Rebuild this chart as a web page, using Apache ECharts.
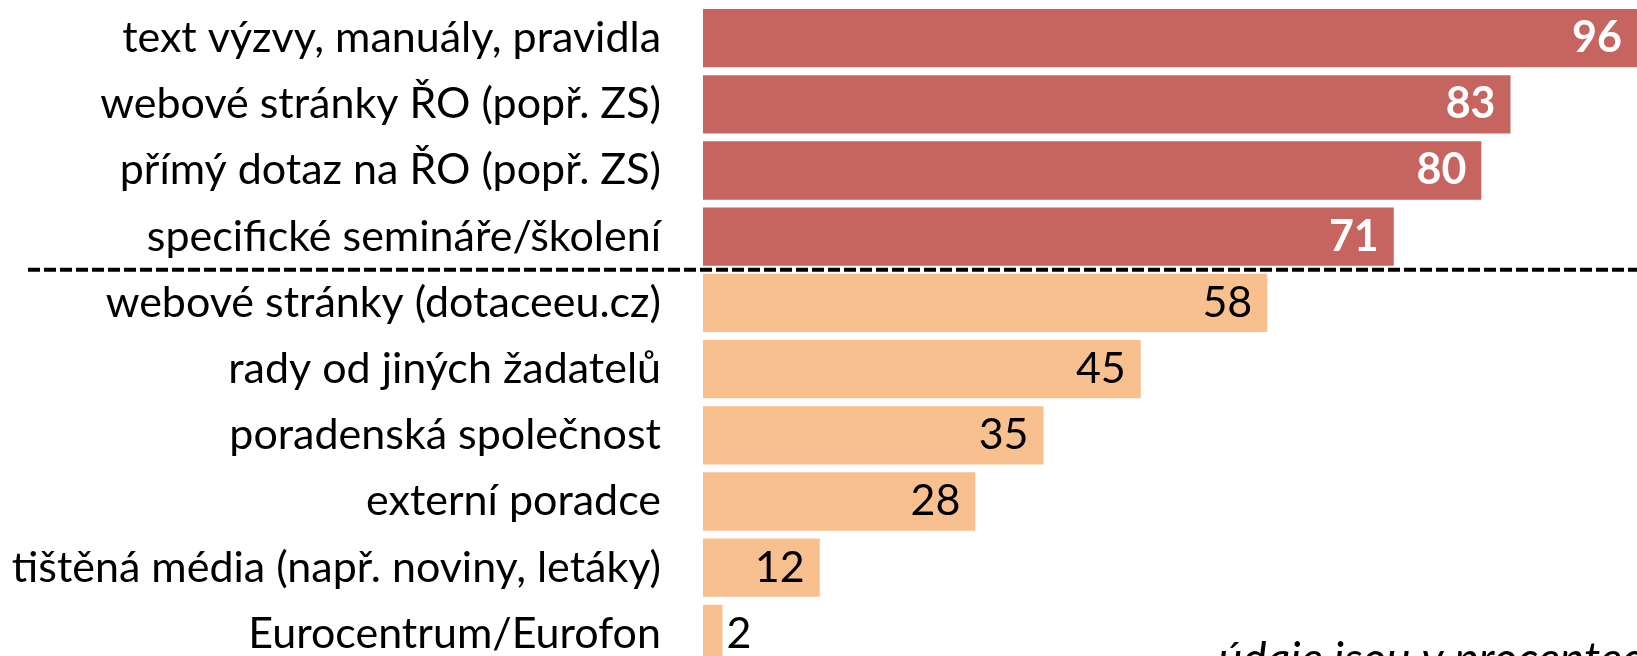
<!DOCTYPE html>
<html>
<head>
<meta charset="utf-8">
<script src="https://cdn.jsdelivr.net/npm/echarts@6/dist/echarts.min.js"></script>
<style>
    html, body { margin: 0; padding: 0; background: #fff; }
    #main { width: 1637px; height: 656px; }
</style>
</head>
<body>
<div id="main"></div>
<script>
// zdroje informací, údaje v procentech
var categories = [
    'text výzvy, manuály, pravidla',
    'webové stránky ŘO (popř. ZS)',
    'přímý dotaz na ŘO (popř. ZS)',
    'specifické semináře/školení',
    'webové stránky (dotaceeu.cz)',
    'rady od jiných žadatelů',
    'poradenská společnost',
    'externí poradce',
    'tištěná média (např. noviny, letáky)',
    'Eurocentrum/Eurofon'
];
var values = [96, 83, 80, 71, 58, 45, 35, 28, 12, 2];
var topCount = 4; // první skupina (červeně), pak čára
var note = 'údaje jsou v procentech';

var FONT = 'Lato';

var myChart = echarts.init(document.getElementById('main'));

function mapData() {
    return values.map(function (v, i) {
        var top = i < topCount;
        return {
            value: v,
            itemStyle: { color: top ? '#C6645F' : '#F9C08F' },
            label: {
                position: v < 5 ? 'right' : 'insideRight',
                distance: v < 5 ? 4 : 15,
                color: top ? '#fff' : '#000',
                fontWeight: top ? 'bold' : 'normal'
            }
        };
    });
}

var option = {
    animation: false,
    grid: { left: 703, right: 0, top: 5, bottom: -11, outerBoundsMode: 'none', containLabel: false },
    xAxis: {
        type: 'value',
        min: 0,
        max: 96,
        show: false
    },
    yAxis: {
        type: 'category',
        inverse: true,
        data: categories,
        axisLine: { show: false },
        axisTick: { show: false },
        axisLabel: {
            margin: 42,
            color: '#000',
            fontFamily: FONT,
            fontSize: 43
        }
    },
    series: [{
        type: 'bar',
        barCategoryGap: '12%',
        data: mapData(),
        label: {
            show: true,
            fontFamily: FONT,
            fontSize: 43
        }
    }]
};
myChart.setOption(option);

// oddělovací čára mezi skupinami
var yA = myChart.convertToPixel({ yAxisIndex: 0 }, categories[topCount - 1]);
var yB = myChart.convertToPixel({ yAxisIndex: 0 }, categories[topCount]);
var yLine = (yA + yB) / 2;

myChart.setOption({
    graphic: [{
        type: 'line',
        shape: { x1: 28, y1: yLine, x2: 1637, y2: yLine },
        style: { stroke: '#000', lineWidth: 4, lineDash: [12, 4] },
        z: 10
    }, {
        type: 'text',
        left: 1218,
        top: 637,
        style: {
            text: note,
            fontFamily: FONT,
            fontStyle: 'italic',
            fontSize: 46,
            fill: '#000'
        }
    }]
});
</script>
</body>
</html>
